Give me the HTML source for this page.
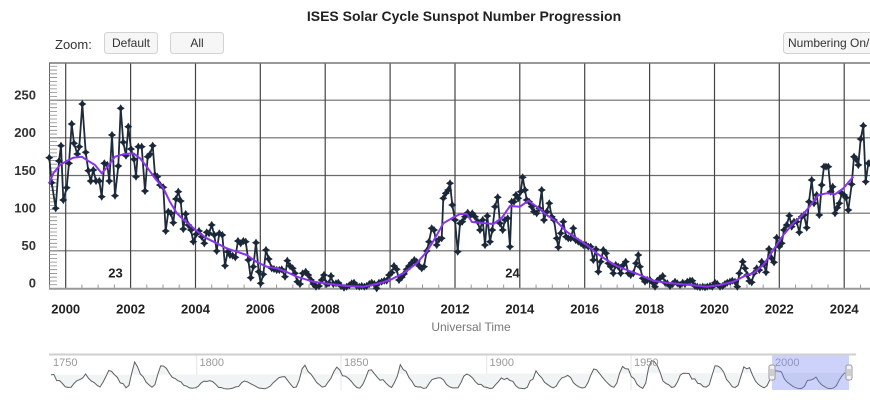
<!DOCTYPE html>
<html><head><meta charset="utf-8"><style>
html,body{margin:0;padding:0;background:#fff;}
svg{display:block;}
text{font-family:"Liberation Sans",Arial,sans-serif;}
</style></head><body>
<svg width="870" height="400" viewBox="0 0 870 400" xmlns="http://www.w3.org/2000/svg">
<defs>
<marker id="m" markerWidth="10" markerHeight="10" refX="5" refY="5" markerUnits="userSpaceOnUse">
<path d="M5 0.9 L6.6 3.4 L9.1 5 L6.6 6.6 L5 9.1 L3.4 6.6 L0.9 5 L3.4 3.4Z" fill="#1b283a"/>
</marker>
</defs>
<rect width="870" height="400" fill="#fff"/>
<text x="464" y="21" text-anchor="middle" font-weight="bold" font-size="14" fill="#222">ISES Solar Cycle Sunspot Number Progression</text>
<text x="55" y="49" font-size="13" fill="#333">Zoom:</text>
<rect x="104.5" y="32.5" width="53" height="21" rx="3" fill="#f6f6f6" stroke="#d2d2d2"/>
<text x="131" y="47" text-anchor="middle" font-size="12" fill="#333">Default</text>
<rect x="170.5" y="32.5" width="53" height="21" rx="3" fill="#f6f6f6" stroke="#d2d2d2"/>
<text x="197" y="47" text-anchor="middle" font-size="12" fill="#333">All</text>
<rect x="783.5" y="32.5" width="100" height="21" rx="3" fill="#f6f6f6" stroke="#d2d2d2"/>
<text x="788" y="47" font-size="12" fill="#333">Numbering On/Off</text>

<g stroke="#6a6a6a" stroke-width="1.2">
<line x1="49" y1="250.8" x2="870" y2="250.8"/>
<line x1="49" y1="213.2" x2="870" y2="213.2"/>
<line x1="49" y1="175.5" x2="870" y2="175.5"/>
<line x1="49" y1="137.8" x2="870" y2="137.8"/>
<line x1="49" y1="100.2" x2="870" y2="100.2"/>
</g>
<g stroke="#444" stroke-width="1.2">
<line x1="65.7" y1="63" x2="65.7" y2="288.5"/>
<line x1="130.6" y1="63" x2="130.6" y2="288.5"/>
<line x1="195.5" y1="63" x2="195.5" y2="288.5"/>
<line x1="260.3" y1="63" x2="260.3" y2="288.5"/>
<line x1="325.2" y1="63" x2="325.2" y2="288.5"/>
<line x1="390.1" y1="63" x2="390.1" y2="288.5"/>
<line x1="455" y1="63" x2="455" y2="288.5"/>
<line x1="519.8" y1="63" x2="519.8" y2="288.5"/>
<line x1="584.7" y1="63" x2="584.7" y2="288.5"/>
<line x1="649.6" y1="63" x2="649.6" y2="288.5"/>
<line x1="714.5" y1="63" x2="714.5" y2="288.5"/>
<line x1="779.3" y1="63" x2="779.3" y2="288.5"/>
<line x1="844.2" y1="63" x2="844.2" y2="288.5"/>
</g>
<line x1="49" y1="63" x2="870" y2="63" stroke="#777" stroke-width="1.6"/>
<line x1="49.5" y1="63" x2="49.5" y2="289" stroke="#666" stroke-width="1"/>
<line x1="49" y1="288.7" x2="870" y2="288.7" stroke="#999" stroke-width="2"/>
<g transform="translate(0,288.5) scale(1,-0.7533)">
<path vector-effect="non-scaling-stroke" stroke="#8a8a8a" stroke-width="0.8" fill="none" d="M49 5H57M49 10H57M49 15H57M49 20H57M49 25H57M49 30H57M49 35H57M49 40H57M49 45H57M49 50H57M49 55H57M49 60H57M49 65H57M49 70H57M49 75H57M49 80H57M49 85H57M49 90H57M49 95H57M49 100H57M49 105H57M49 110H57M49 115H57M49 120H57M49 125H57M49 130H57M49 135H57M49 140H57M49 145H57M49 150H57M49 155H57M49 160H57M49 165H57M49 170H57M49 175H57M49 180H57M49 185H57M49 190H57M49 195H57M49 200H57M49 205H57M49 210H57M49 215H57M49 220H57M49 225H57M49 230H57M49 235H57M49 240H57M49 245H57M49 250H57M49 255H57M49 260H57M49 265H57M49 270H57M49 275H57M49 280H57M49 285H57M49 290H57M49 295H57"/>
</g>
<g transform="translate(65.7,0) scale(32.44,1)">
<path vector-effect="non-scaling-stroke" stroke="#999" stroke-width="1" fill="none" d="M-0.5 288V284.5M0.5 288V284.5M1 288V284.5M1.5 288V284.5M2.5 288V284.5M3 288V284.5M3.5 288V284.5M4.5 288V284.5M5 288V284.5M5.5 288V284.5M6.5 288V284.5M7 288V284.5M7.5 288V284.5M8.5 288V284.5M9 288V284.5M9.5 288V284.5M10.5 288V284.5M11 288V284.5M11.5 288V284.5M12.5 288V284.5M13 288V284.5M13.5 288V284.5M14.5 288V284.5M15 288V284.5M15.5 288V284.5M16.5 288V284.5M17 288V284.5M17.5 288V284.5M18.5 288V284.5M19 288V284.5M19.5 288V284.5M20.5 288V284.5M21 288V284.5M21.5 288V284.5M22.5 288V284.5M23 288V284.5M23.5 288V284.5M24.5 288V284.5"/>
</g>

<g font-size="13" font-weight="bold" fill="#333" text-anchor="end">
<text x="36" y="99.5">250</text>
<text x="36" y="137.2">200</text>
<text x="36" y="174.8">150</text>
<text x="36" y="212.5">100</text>
<text x="36" y="250.2">50</text>
<text x="36" y="287.6">0</text>
</g>
<g font-size="13" font-weight="bold" fill="#222" text-anchor="middle">
<text x="65.7" y="313.5">2000</text>
<text x="130.6" y="313.5">2002</text>
<text x="195.5" y="313.5">2004</text>
<text x="260.3" y="313.5">2006</text>
<text x="325.2" y="313.5">2008</text>
<text x="390.1" y="313.5">2010</text>
<text x="455" y="313.5">2012</text>
<text x="519.8" y="313.5">2014</text>
<text x="584.7" y="313.5">2016</text>
<text x="649.6" y="313.5">2018</text>
<text x="714.5" y="313.5">2020</text>
<text x="779.3" y="313.5">2022</text>
<text x="844.2" y="313.5">2024</text>
</g>
<text x="471" y="331" text-anchor="middle" font-size="12" fill="#777">Universal Time</text>
<text x="115.5" y="277.5" text-anchor="middle" font-size="13" font-weight="bold" fill="#222">23</text>
<text x="512.5" y="277.5" text-anchor="middle" font-size="13" font-weight="bold" fill="#222">24</text>

<polyline fill="none" stroke="#1e2b3b" stroke-width="1.8" stroke-linejoin="round" marker-start="url(#m)" marker-mid="url(#m)" marker-end="url(#m)" points="49.3,157.7 51.7,182.7 55.7,208.3 59,161 61,145.7 63.3,200 66.7,187.7 69,163.3 71.7,124 74,143.3 77.3,154 79.3,146.7 82.3,104 85.7,152.3 88.3,170.7 90.7,181 93.3,170 96,181 99.3,181 101.7,196.7 104.3,163.3 107.3,165 109.3,181 112,135 115,195.7 118.3,166 120.7,108.3 123.3,142.3 126,155.7 128.3,126.7 131,149 134,159.3 136,176.7 138.3,146.7 141.7,146.7 145,191 147.7,156.7 150,154.3 152.7,145.7 155,175 157.3,176.7 160,185 163.3,187.3 165.7,231 168.3,211.7 171,213.3 173.3,222.7 176,199 178.3,191.7 180.7,201 183.3,229 185.7,214 188.3,225 191,230 193.3,241.7 196,234.3 199,231 201.7,236.7 204.3,243.3 206.7,232.3 209,233.3 211.7,225 214.3,235 216.7,251 219.3,233.3 222.3,235 225,265.7 227.7,251.7 230,255 232.7,255.7 235.3,257.3 238,241 240.7,243.3 243.3,241 245.7,241.7 248.3,260 250.7,277.7 253.3,266.7 256,242.7 258.7,271.7 260.7,283.3 263.3,274.3 266,250 268.7,259 271.7,268.3 274,269 276.7,270 279.3,270 281.7,269.3 285,276.7 287.3,260.7 290,266 292.7,268.3 295,273.3 297.3,281.7 300,284 302.7,273.3 305.7,271.7 308.3,275 311,280 313.3,284 316,286.7 319,286 321.7,280 324,275 326.7,284 329,283.3 331,276 333.3,284 336,283.3 338.3,282.7 341,286 344,287.7 346.7,286.7 349.3,285.3 351.7,283.3 354,282.7 356.7,286 359.3,286.7 361.7,286 364.3,286.7 366.7,286 369.3,284 371.7,282.7 374.3,284 376.7,288.3 379,282.7 381.7,281.7 384.3,280.7 386.7,280.7 389,275 391.7,272.7 394,266 396.7,269.3 399,280 401.7,277.3 404,274 406.7,269.3 409,266 411.7,262.7 414.3,260 416.7,261.7 419.3,266 421.7,268.3 424,266.7 426.7,251 429,241.7 431.7,228.3 434,230 436.7,245 439,239.3 441.7,238.3 443.3,198.3 445.7,193.3 448.3,190 450,183.3 452.3,205 455,220 457.7,251.7 460,223.3 462.3,221.7 465,216.7 467.7,212.7 470,216 472.3,213.3 475,216.7 477.7,221.7 480,230 482.7,220 485,245 487.3,216 490,241.7 492.3,230 495,206.7 497.7,197.3 500,223.3 502.7,230 505,220 507.7,218.3 510,246.7 511.7,201.7 514,201.7 516,195 518.3,198.3 520.7,191.7 522.7,177.3 525,190 526.7,200 529,201.7 531.7,206.7 534,211.7 536.7,213.3 539.3,208.3 541.7,190 544,220 546.7,211.7 549.3,203.3 551.7,216.7 554,220 556.7,238.3 558.3,247.3 560.7,233.3 563.3,221.7 566,236.7 568.3,238.3 570.7,238.3 573.3,228.3 575.7,240 578.3,241.7 581,243.3 583.3,245 586,245 588.3,246.7 590.7,246.7 593.3,260 596,249.3 598.3,271.7 600.7,261.7 603.3,250 606,253.3 608.3,263.3 610.7,266.7 613.3,273.3 615.7,265 618.3,266.7 620.7,273.3 623.3,265 625.7,261.7 628.3,273.3 630.7,275 633.3,273.3 636,263.3 638.3,255 640,266.7 642.7,278.3 645,281.7 647.3,280 650,280 652.7,282.7 655,286.7 657.3,280.7 660,278.3 662.7,276 665,282.7 667.3,283.3 670,286 672.7,284 675,281.7 677.3,283.3 680,285 682.7,282.7 685,284 687.3,281.7 690,280.7 692.3,280.7 695,286 697.3,286.7 700,287.3 702.7,286.7 705,287.3 707.3,286.7 710,286 712.3,286.7 715,282.7 717.3,284 720,286.7 722.7,286 725,284 727.3,282.7 730,281.7 732.3,280.7 735,281.7 737.3,286.7 739.3,273.3 742.7,261.7 745,268.3 747.3,275 749.3,281 751.7,282.3 754,273.3 756.7,268.3 759.3,270 761.7,261.7 764,264.3 766,272.3 769,249 771.7,258.3 774,262.3 776.7,237.7 779.3,246.7 781.7,243.3 784,230 786.7,225 789.3,215.7 791.7,226.7 794,221.7 796.7,221.7 799.3,232.3 801.7,216.7 804,215 806.7,227.7 809,201.7 811.7,180 814,203.3 816.7,195 819.3,215 821.7,185 824,166.7 826,166.7 828.3,166.7 830.7,191.7 832.7,186.7 835,213.3 837.3,207.7 839.3,203.3 841.7,193.3 844,195 846,197.7 848.3,210 851.7,184.3 854,156.7 856,159 858.3,165 860.7,139 863.3,125.7 865.7,181.7 868.3,163.3 870,163.3"/>

<polyline fill="none" stroke="#8833ee" stroke-width="2" stroke-linejoin="round" points="49.3,183.3 53.3,173.3 60,165 66.7,161 73.3,157.7 81.7,156.7 88.3,161 95,165 101.7,173.3 106.7,167.7 115,156.7 123.3,154.3 133.3,153.3 140,158.3 146.7,166.7 155,178.3 163.3,188 170,202 176.7,213 183.3,219.7 190,225 196.7,231 206.7,238.3 216.7,243.3 226.7,248.3 236.7,251.7 246.7,255 256.7,262 266.7,266.7 276.7,268.3 286.7,272 296.7,276.7 313.3,281.7 330,284 346.7,286 363.3,286.7 376.7,284 390,280 403.3,273.3 416.7,263.3 426.7,251.7 435,238.3 443.3,223.3 451.7,218.3 460,214 466.7,214 472,222 480,222.7 493.3,224 501.7,218 510,206 520,206.7 528.3,200.7 536.7,206.7 546.7,215 556.7,221.7 566.7,231.7 576.7,238.3 586.7,245 596.7,253.3 606.7,260 616.7,266 626.7,270 640,275 653.3,280.7 666.7,282.7 680,284 693.3,285.3 706.7,286.7 720,285 733.3,281.7 746.7,275 753.3,273.3 763.3,265 773.3,250 783.3,235 793.3,223.3 803.3,214.3 813.3,201.7 818.3,195 826.7,193.3 835,194.3 843.3,188.3 853.3,176.7"/>

<g stroke="#e4e4e4" stroke-width="1">
<line x1="196.7" y1="355" x2="196.7" y2="390"/>
<line x1="341" y1="355" x2="341" y2="390"/>
<line x1="486.7" y1="355" x2="486.7" y2="390"/>
<line x1="631" y1="355" x2="631" y2="390"/>
</g>
<g transform="translate(53.84,389) scale(2.887,-0.105)">
<path vector-effect="non-scaling-stroke" fill="#f1f4f4" stroke="#5e5e5e" stroke-width="1" d="M-1,134.7 L0,139 L1,79.5 L2,79.7 L3,51.2 L4,20.3 L5,16 L6,17 L7,54 L8,79.3 L9,90 L10,104.8 L11,143.2 L12,102 L13,75.2 L14,60.7 L15,34.8 L16,19 L17,63 L18,116.3 L19,176.8 L20,168 L21,136 L22,110.8 L23,58 L24,51 L25,11.7 L26,33 L27,154.2 L28,257.3 L29,209.8 L30,141.3 L31,113.5 L32,64.2 L33,38 L34,17 L35,40.2 L36,138.2 L37,220 L38,218.2 L39,196.8 L40,149.8 L41,111 L42,100 L43,78.2 L44,68.3 L45,35.5 L46,26.7 L47,10.7 L48,6.8 L49,11.3 L50,24.2 L51,56.7 L52,75 L53,71.8 L54,79.2 L55,70.3 L56,46.8 L57,16.8 L58,13.5 L59,4.2 L60,0 L61,2.3 L62,8.3 L63,20.3 L64,23.2 L65,59 L66,76.3 L67,68.3 L68,52.9 L69,38.5 L70,24.2 L71,9.2 L72,6.3 L73,2.2 L74,11.4 L75,28.2 L76,59.9 L77,83 L78,108.5 L79,115.2 L80,117.4 L81,80.8 L82,44.3 L83,13.4 L84,19.5 L85,85.8 L86,192.7 L87,227.3 L88,168.7 L89,143 L90,105.5 L91,63.3 L92,40.3 L93,18.1 L94,25.1 L95,65.8 L96,102.7 L97,166.3 L98,208.3 L99,182.5 L100,126.3 L101,122 L102,102.7 L103,74.1 L104,39 L105,12.7 L106,8.2 L107,43.4 L108,104.4 L109,178.3 L110,182.2 L111,146.6 L112,112.1 L113,83.5 L114,89.2 L115,57.8 L116,30.7 L117,13.9 L118,62.8 L119,123.6 L120,232 L121,185.3 L122,169.2 L123,110.1 L124,74.5 L125,28.3 L126,18.9 L127,20.7 L128,5.7 L129,10 L130,53.7 L131,90.5 L132,99 L133,106.1 L134,105.8 L135,86.3 L136,42.4 L137,21.8 L138,11.2 L139,10.4 L140,11.8 L141,59.5 L142,121.7 L143,142 L144,130 L145,106.6 L146,69.4 L147,43.8 L148,44.4 L149,20.2 L150,15.7 L151,4.6 L152,8.5 L153,40.8 L154,70.1 L155,105.5 L156,90.1 L157,102.8 L158,80.9 L159,73.2 L160,30.9 L161,9.5 L162,6 L163,2.4 L164,16.1 L165,79 L166,95 L167,173.6 L168,134.6 L169,105.7 L170,62.7 L171,43.5 L172,23.7 L173,9.7 L174,27.9 L175,74 L176,106.5 L177,114.7 L178,129.7 L179,108.2 L180,59.4 L181,35.1 L182,18.6 L183,9.2 L184,14.6 L185,60.2 L186,132.8 L187,190.6 L188,182.6 L189,148 L190,113 L191,79.2 L192,50.8 L193,27.1 L194,16.1 L195,55.3 L196,154.3 L197,214.7 L198,193 L199,190.7 L200,118.9 L201,98.3 L202,45 L203,20.1 L204,6.6 L205,54.2 L206,200.7 L207,269.3 L208,261.7 L209,225.1 L210,159 L211,76.4 L212,53.4 L213,39.9 L214,15 L215,22 L216,66.8 L217,132.9 L218,150 L219,149.4 L220,148 L221,94.4 L222,97.6 L223,54.1 L224,49.2 L225,22.5 L226,18.4 L227,39.3 L228,131 L229,220.1 L230,218.9 L231,198.9 L232,162.4 L233,91 L234,60.5 L235,20.6 L236,14.8 L237,33.9 L238,123 L239,211.1 L240,191.8 L241,203.3 L242,133 L243,76.1 L244,44.9 L245,25.1 L246,11.6 L247,28.9 L248,88.3 L249,136.3 L250,173.9 L251,170.4 L252,163.6 L253,99.3 L254,65.3 L255,45.8 L256,24.7 L257,12.6 L258,4.2 L259,4.8 L260,24.9 L261,80.8 L262,84.5 L263,94 L264,113.3 L265,69.8 L266,39.8 L267,21.7 L268,7 L269,3.6 L270,8.8 L271,29.6 L272,83.2 L273,125.5 L274,154.7"/>
</g>
<line x1="49" y1="354.5" x2="856" y2="354.5" stroke="#cfcfcf" stroke-width="2"/>
<g font-size="11" fill="#999">
<text x="53" y="366">1750</text>
<text x="199.5" y="366">1800</text>
<text x="344" y="366">1850</text>
<text x="489.5" y="366">1900</text>
<text x="634" y="366">1950</text>
<text x="775" y="366">2000</text>
</g>
<rect x="772" y="355.5" width="77" height="34.5" fill="#7f8ff0" fill-opacity="0.4"/>
<rect x="769" y="365" width="6" height="15" rx="2" fill="#f2f2f2" stroke="#999" stroke-width="1"/>
<line x1="771" y1="369" x2="771" y2="376" stroke="#999" stroke-width="0.8"/>
<line x1="773" y1="369" x2="773" y2="376" stroke="#999" stroke-width="0.8"/>
<rect x="846" y="365" width="6" height="15" rx="2" fill="#f2f2f2" stroke="#999" stroke-width="1"/>
<line x1="848" y1="369" x2="848" y2="376" stroke="#999" stroke-width="0.8"/>
<line x1="850" y1="369" x2="850" y2="376" stroke="#999" stroke-width="0.8"/>
</svg>
</body></html>
